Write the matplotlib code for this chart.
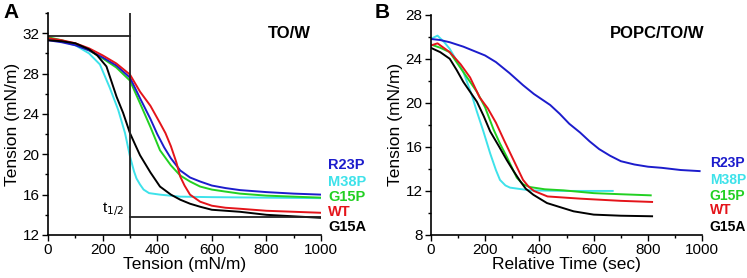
import matplotlib.pyplot as plt
from matplotlib.ticker import MultipleLocator

plt.rcParams['font.family'] = ['Liberation Sans', 'DejaVu Sans']

# ---- panel A : TO/W ----
a_r23p_x = [0, 50, 100, 150, 200, 250, 300, 337, 375, 400, 425, 450, 484, 520, 557, 600, 650, 703, 800, 900, 1000]
a_r23p_y = [31.3, 31.1, 30.8, 30.3, 29.6, 28.8, 27.6, 25.55, 23.5, 22.0, 20.7, 19.6, 18.4, 17.7, 17.3, 16.9, 16.65, 16.45, 16.25, 16.1, 16.0]
a_m38p_x = [0, 50, 100, 150, 190, 226, 257, 282, 300, 315, 324, 337, 350, 370, 410, 484, 600, 1000]
a_m38p_y = [31.5, 31.2, 30.8, 30.0, 28.9, 26.6, 24.4, 22.1, 19.8, 18.3, 17.6, 17.0, 16.5, 16.15, 16.0, 15.8, 15.75, 15.65]
a_g15p_x = [0, 50, 100, 150, 200, 250, 300, 337, 375, 410, 450, 484, 520, 557, 600, 650, 703, 800, 900, 1000]
a_g15p_y = [31.6, 31.3, 30.9, 30.3, 29.5, 28.6, 27.3, 25.05, 22.7, 20.4, 18.9, 17.9, 17.3, 16.8, 16.5, 16.3, 16.1, 15.9, 15.8, 15.7]
a_wt_x = [0, 50, 100, 150, 200, 250, 300, 337, 375, 410, 430, 450, 470, 484, 500, 520, 557, 600, 650, 703, 800, 900, 1000]
a_wt_y = [31.5, 31.3, 31.0, 30.5, 29.8, 29.0, 27.9, 26.2, 24.8, 23.1, 22.1, 20.8, 19.2, 17.8, 16.9, 16.0, 15.3, 14.9, 14.7, 14.6, 14.4, 14.3, 14.2]
a_g15a_x = [0, 50, 100, 150, 180, 214, 235, 251, 275, 300, 320, 337, 375, 410, 450, 484, 520, 557, 600, 703, 800, 900, 1000]
a_g15a_y = [31.3, 31.2, 31.0, 30.4, 29.8, 28.7, 27.0, 25.7, 24.1, 22.1, 20.9, 19.9, 18.2, 16.8, 16.0, 15.5, 15.1, 14.8, 14.5, 14.3, 14.0, 13.85, 13.7]

# ---- panel B : POPC/TO/W ----
b_r23p_x = [0, 35, 70, 120, 170, 200, 240, 290, 340, 380, 410, 440, 475, 510, 550, 585, 620, 660, 700, 750, 800, 850, 920, 990]
b_r23p_y = [25.8, 25.7, 25.5, 25.1, 24.6, 24.3, 23.7, 22.7, 21.6, 20.8, 20.3, 19.8, 19.0, 18.1, 17.3, 16.5, 15.8, 15.2, 14.7, 14.4, 14.2, 14.1, 13.9, 13.8]
b_m38p_x = [0, 25, 50, 70, 120, 150, 170, 194, 219, 240, 255, 275, 292, 366, 500, 670]
b_m38p_y = [25.8, 26.1, 25.5, 24.9, 22.8, 20.8, 19.2, 17.4, 15.4, 13.9, 13.0, 12.5, 12.3, 12.05, 12.0, 12.0]
b_g15p_x = [0, 35, 70, 120, 170, 200, 231, 255, 280, 317, 340, 366, 420, 490, 600, 700, 810]
b_g15p_y = [25.3, 25.0, 24.6, 22.8, 21.0, 19.6, 17.6, 16.3, 15.1, 13.2, 12.6, 12.35, 12.15, 12.05, 11.8, 11.7, 11.6]
b_wt_x = [0, 25, 70, 110, 145, 180, 210, 240, 270, 305, 340, 360, 380, 430, 550, 700, 815]
b_wt_y = [25.2, 25.4, 24.6, 23.5, 22.3, 20.5, 19.5, 18.2, 16.6, 14.8, 13.0, 12.4, 12.0, 11.5, 11.3, 11.1, 11.0]
b_g15a_x = [0, 35, 70, 95, 120, 170, 195, 219, 250, 280, 305, 329, 350, 378, 428, 480, 526, 600, 700, 815]
b_g15a_y = [25.0, 24.6, 24.0, 23.0, 21.9, 20.1, 18.8, 17.4, 16.1, 14.8, 13.8, 12.9, 12.2, 11.65, 10.9, 10.5, 10.15, 9.85, 9.75, 9.7]

names = ['R23P', 'M38P', 'G15P', 'WT', 'G15A']
colors = ['#1c1ccc', '#3ee2ea', '#22d022', '#e4141a', '#000000']
label_y_a = [18.96, 17.3, 15.8, 14.3, 12.8]
label_y_b = [14.53, 12.99, 11.53, 10.26, 8.72]

fig = plt.figure(figsize=(7.47, 2.78), dpi=100)
axA = fig.add_axes([0.0643, 0.1547, 0.3655, 0.7986])
axB = fig.add_axes([0.5766, 0.1547, 0.3636, 0.7924])

seriesA = [(a_r23p_x, a_r23p_y), (a_m38p_x, a_m38p_y), (a_g15p_x, a_g15p_y),
           (a_wt_x, a_wt_y), (a_g15a_x, a_g15a_y)]
seriesB = [(b_r23p_x, b_r23p_y), (b_m38p_x, b_m38p_y), (b_g15p_x, b_g15p_y),
           (b_wt_x, b_wt_y), (b_g15a_x, b_g15a_y)]

# black and red sit on top in the original
order = [1, 2, 0, 3, 4]
for ax, series in [(axA, seriesA), (axB, seriesB)]:
    for i in order:
        x, y = series[i]
        ax.plot(x, y, color=colors[i], lw=1.4)

for ax in (axA, axB):
    ax.spines['top'].set_visible(False)
    ax.spines['right'].set_visible(False)
    ax.spines['left'].set_linewidth(1.2)
    ax.spines['bottom'].set_linewidth(1.2)
    ax.set_xlim(0, 1000)
    ax.xaxis.set_major_locator(MultipleLocator(200))
    ax.xaxis.set_minor_locator(MultipleLocator(100))
    ax.yaxis.set_major_locator(MultipleLocator(4))
    ax.yaxis.set_minor_locator(MultipleLocator(2))
    ax.tick_params(which='major', direction='out', length=4, width=1, labelsize=11, pad=2)
    ax.tick_params(which='minor', direction='out', length=2, width=1)
    ax.set_ylabel('Tension (mN/m)', fontsize=12.5, labelpad=2)

axA.set_ylim(12, 34)
axB.set_ylim(8, 28)
axA.set_xlabel('Tension (mN/m)', fontsize=12.5, labelpad=0)
axB.set_xlabel('Relative Time (sec)', fontsize=12.5, labelpad=0)

# t1/2 guide lines in panel A
axA.axvline(300, color='#222222', lw=1.3)
axA.plot([0, 300], [31.67, 31.67], color='#222222', lw=1.3)
axA.plot([300, 1000], [13.82, 13.82], color='#222222', lw=1.3)
axA.text(280, 13.7, 't$_{1/2}$', fontsize=11, ha='right', va='bottom')

axA.text(883, 32.0, 'TO/W', fontsize=12, fontweight='bold', ha='center', va='center')
axB.text(834, 26.3, 'POPC/TO/W', fontsize=12, fontweight='bold', ha='center', va='center')

for i, n in enumerate(names):
    axA.text(1025, label_y_a[i], n, color=colors[i], fontsize=10.5, fontweight='bold',
             ha='left', va='center', clip_on=False)
    axB.text(1027, label_y_b[i], n, color=colors[i], fontsize=10, fontweight='bold',
             ha='left', va='center', clip_on=False)

fig.text(0.004, 0.955, 'A', fontsize=15, fontweight='bold', ha='left', va='center')
fig.text(0.502, 0.955, 'B', fontsize=15, fontweight='bold', ha='left', va='center')

fig.savefig('out.png', dpi=100)
